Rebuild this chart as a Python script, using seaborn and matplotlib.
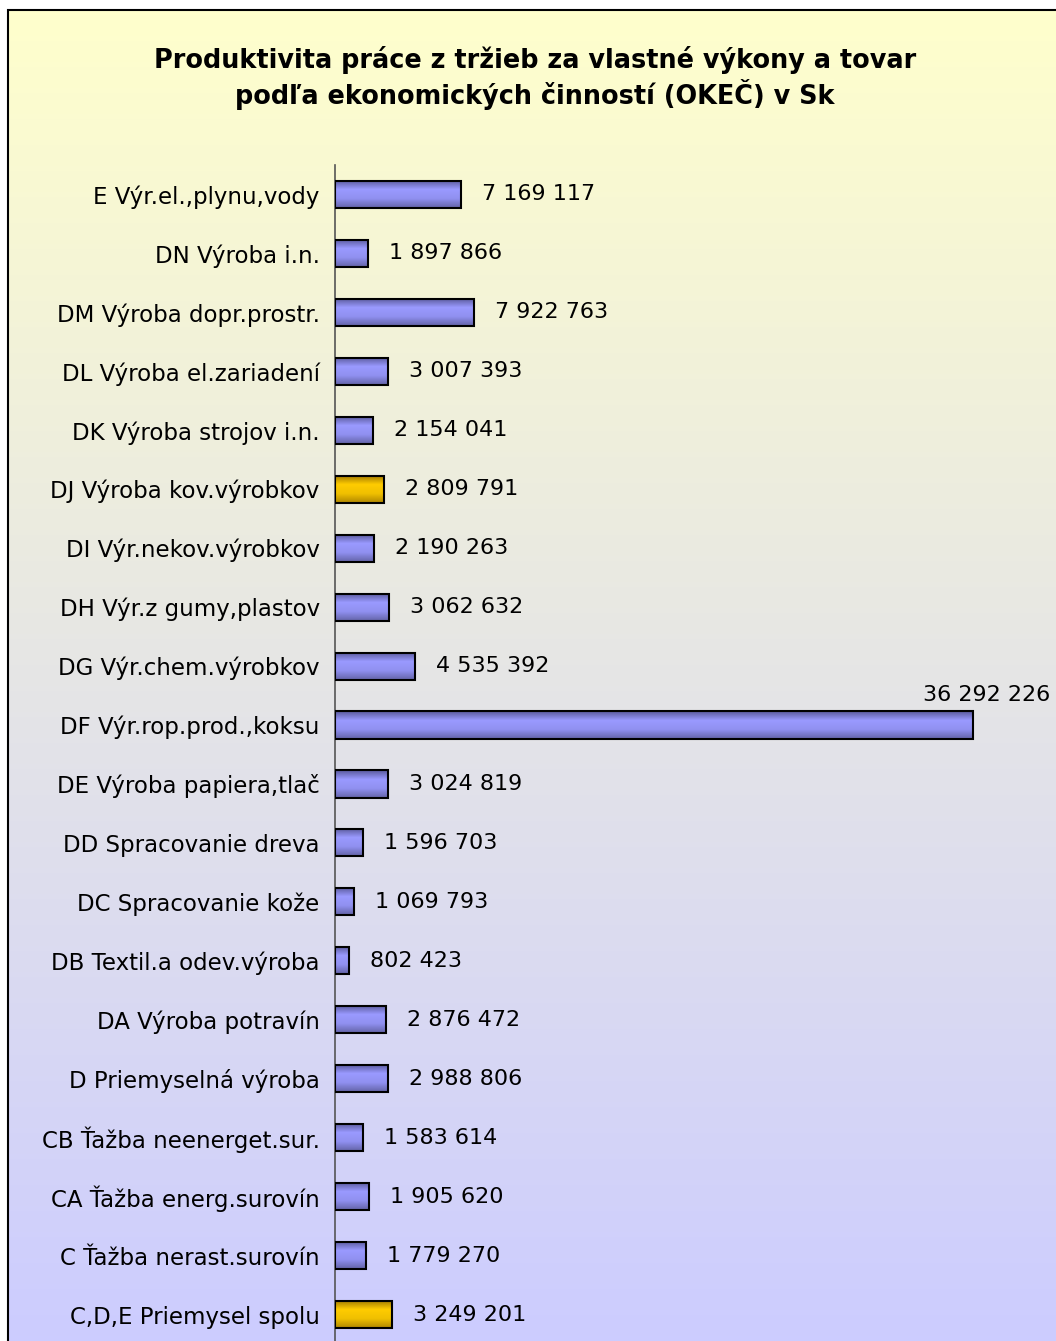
import numpy as np
import pandas as pd
import matplotlib
matplotlib.use("Agg")
import matplotlib.pyplot as plt
import seaborn as sns
from matplotlib.colors import LinearSegmentedColormap
from matplotlib.patches import Rectangle

categories = [
    "E Výr.el.,plynu,vody",
    "DN Výroba i.n.",
    "DM Výroba dopr.prostr.",
    "DL Výroba el.zariadení",
    "DK Výroba strojov i.n.",
    "DJ Výroba kov.výrobkov",
    "DI Výr.nekov.výrobkov",
    "DH Výr.z gumy,plastov",
    "DG Výr.chem.výrobkov",
    "DF Výr.rop.prod.,koksu",
    "DE Výroba papiera,tlač",
    "DD Spracovanie dreva",
    "DC Spracovanie kože",
    "DB Textil.a odev.výroba",
    "DA Výroba potravín",
    "D Priemyselná výroba",
    "CB Ťažba neenerget.sur.",
    "CA Ťažba energ.surovín",
    "C Ťažba nerast.surovín",
    "C,D,E Priemysel spolu",
]
values = [7169117, 1897866, 7922763, 3007393, 2154041, 2809791, 2190263,
          3062632, 4535392, 36292226, 3024819, 1596703, 1069793, 802423,
          2876472, 2988806, 1583614, 1905620, 1779270, 3249201]
highlight = ["DJ Výroba kov.výrobkov", "C,D,E Priemysel spolu"]

df = pd.DataFrame({"category": categories, "value": values})
df["group"] = np.where(df["category"].isin(highlight), "gold", "blue")

W, H = 1056, 1341
fig = plt.figure(figsize=(W / 100, H / 100), dpi=100)
fig.patch.set_facecolor("white")

# gradient background inside the chart frame
bg = fig.add_axes([8 / W, 0, 1 - 8 / W, 1 - 10 / H], zorder=-5)
bg_cmap = LinearSegmentedColormap.from_list("bg", ["#FFFFCC", "#CCCCFF"])
bg.imshow(np.linspace(0, 1, 256).reshape(-1, 1), aspect="auto", cmap=bg_cmap,
          extent=[0, 1, 0, 1], origin="upper")
bg.set_axis_off()
fig.add_artist(Rectangle((8 / W, -0.1), 2, 1 - 10 / H + 0.1, transform=fig.transFigure,
                         fill=False, edgecolor="black", linewidth=1.5, zorder=10))

ax = fig.add_axes([335 / W, -3 / H, 1 - 335 / W, 1 - 165 / H + 3 / H])
ax.set_facecolor("none")

sns.barplot(data=df, y="category", x="value", hue="group", orient="h",
            palette={"blue": "#9999FF", "gold": "#FFCC00"}, dodge=False,
            width=0.46, legend=False, ax=ax)

# cylinder-like shading of the bars
shades = {
    "blue": LinearSegmentedColormap.from_list("b", ["#5a5a9c", "#9a9aff", "#9090f0", "#6464a8"]),
    "gold": LinearSegmentedColormap.from_list("g", ["#a07800", "#ffcc00", "#f0c000", "#b08800"]),
}
grad = np.linspace(0, 1, 64).reshape(-1, 1)
for patch in list(ax.patches):
    w = patch.get_width()
    if w <= 0:
        continue
    y0, h = patch.get_y(), patch.get_height()
    key = "gold" if abs(patch.get_facecolor()[2]) < 0.2 else "blue"
    im = ax.imshow(grad, aspect="auto", cmap=shades[key], origin="upper",
                   extent=[0, w, y0 + h, y0], zorder=2)
    im.set_clip_path(patch)
    patch.set_facecolor("none")
    patch.set_edgecolor("black")
    patch.set_linewidth(1.5)
    patch.set_zorder(3)

ax.set_xlim(0, 41.0e6)
ax.set_ylim(len(categories) - 0.5, -0.5)

vmax = max(values)
for i, v in enumerate(values):
    txt = f"{v:,}".replace(",", " ")
    if v == vmax:
        ax.annotate(txt, (v, i), xytext=(77, 30), textcoords="offset pixels",
                    ha="right", va="center", fontsize=16)
    else:
        ax.annotate(txt, (v, i), xytext=(21, 0), textcoords="offset pixels",
                    ha="left", va="center", fontsize=16)

ax.set_xlabel("")
ax.set_ylabel("")
ax.set_xticks([])
ax.tick_params(axis="y", length=0, pad=11, labelsize=16.5)
for s in ["top", "right", "bottom"]:
    ax.spines[s].set_visible(False)
ax.spines["left"].set_color("#555555")
ax.spines["left"].set_linewidth(1.2)

fig.text(535 / W, 1 - 78 / H,
         "Produktivita práce z tržieb za vlastné výkony a tovar\npodľa ekonomických činností (OKEČ) v Sk",
         ha="center", va="center", fontsize=18.4, fontweight="bold", linespacing=1.2)

fig.savefig("out.png", dpi=100)
